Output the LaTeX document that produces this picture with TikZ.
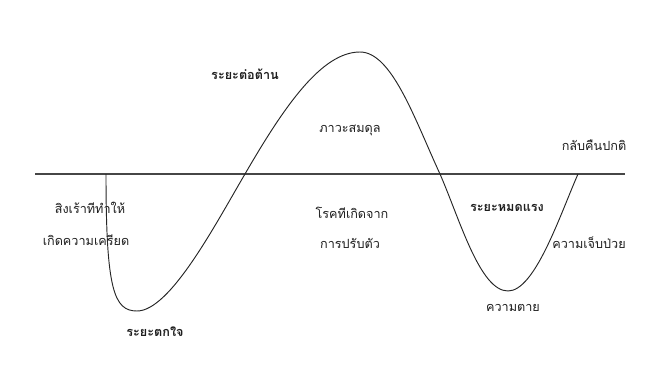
\documentclass[tikz,border=0pt]{standalone}
\usepackage{fontspec}
\usepackage{xcolor}
\usepackage{tikz}
\usetikzlibrary{positioning,calc}
\newfontfamily\thaifont[Script=Thai]{Loma}
\definecolor{cline}{RGB}{70,70,70}
\definecolor{ctext}{RGB}{30,30,30}

\begin{document}
\begin{tikzpicture}[
    x=0.03cm, y=-0.03cm,
    label/.style={
        inner sep=1pt,
        font=\thaifont\fontsize{10.8pt}{12pt}\selectfont,
        text=ctext
    },
    phase/.style={
        label,
        font=\thaifont\bfseries\fontsize{10.8pt}{12pt}\selectfont
    },
    curve/.style={
        line width=0.8pt,
        draw=black!85
    }
]
\useasboundingbox (0,0) rectangle (667,365);

% Baseline (normal level)
\coordinate (lstart) at (35,174);
\coordinate (lend) at (625,174);
\draw[line width=1pt, draw=cline] (lstart) -- (lend);

% Curve points
\coordinate (stress) at (106,174);
\coordinate (lowA) at (137,311);
\coordinate (crossA) at (245,174);
\coordinate (peak) at (360,52);
\coordinate (crossB) at (440,174);
\coordinate (lowB) at (508,291);
\coordinate (back) at (578,174);

% Stress response curve
\draw[curve] (stress) .. controls (106,290) and (114,311) .. (lowA)
    .. controls (170,311) and (215,225) .. (crossA)
    .. controls (285,105) and (322,52) .. (peak)
    .. controls (392,52) and (415,120) .. (crossB)
    .. controls (460,220) and (480,291) .. (lowB)
    .. controls (535,291) and (560,215) .. (back);

% Labels
\node[label] (stimulus) at (90,208) {สิงเร้าทีทำให้};
\node[label] (tension) at (86,240) {เกิดความเครียด};
\node[phase] (alarm) at (155,332) {ระยะตกใจ};
\node[phase] (resist) at (245,74) {ระยะต่อต้าน};
\node[label] (balance) at (350,130) {ภาวะสมดุล};
\node[label] (disease) at (352,213) {โรคทีเกิดจาก};
\node[label] (adapt) at (350,243) {การปรับตัว};
\node[phase] (exhaust) at (507,208) {ระยะหมดแรง};
\node[label] (illness) at (589,243) {ความเจ็บป่วย};
\node[label] (normal) at (594,145) {กลับคืนปกติ};
\node[label] (death) at (513,308) {ความตาย};

\end{tikzpicture}
\end{document}
